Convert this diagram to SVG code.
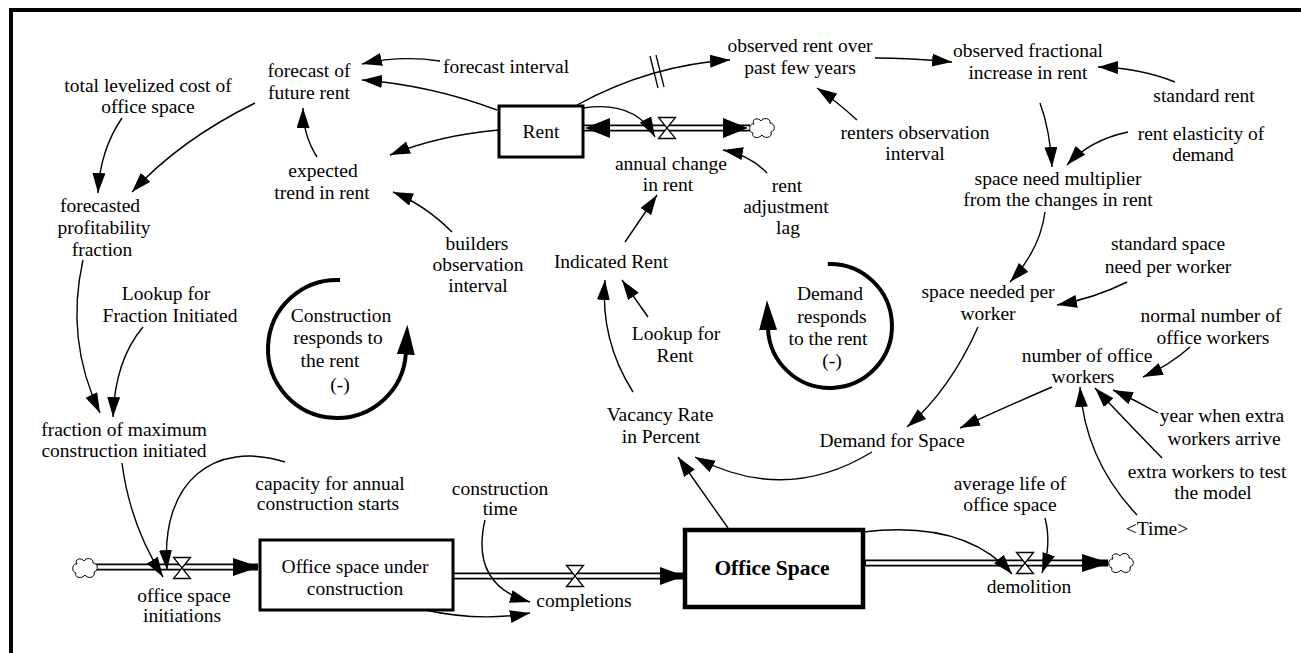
<svg xmlns="http://www.w3.org/2000/svg" width="1301" height="653" viewBox="0 0 1301 653" font-family="'Liberation Serif','Times New Roman',Tinos,'DejaVu Serif',serif">
<style>
text{font-family:"Liberation Serif","Times New Roman",Tinos,"DejaVu Serif",serif;font-size:19.5px;fill:#000;text-anchor:middle}
.b{font-weight:bold;font-size:21.5px}
.c{fill:none;stroke:#000;stroke-width:1.4;marker-end:url(#ah)}
.stock{fill:#fff;stroke:#000;stroke-width:3}
.stock2{fill:#fff;stroke:#000;stroke-width:4.5}
.po{stroke:#000;stroke-width:7;fill:none}
.pi{stroke:#fff;stroke-width:3.6;fill:none}
.valve{fill:#fff;stroke:#000;stroke-width:1.3}
.loop{fill:none;stroke:#000;stroke-width:4;marker-end:url(#lh)}
.cloud{fill:#fff;stroke:#000;stroke-width:1}
.dm{stroke:#000;stroke-width:1.3;fill:none}
</style>
<defs>
<marker id="ah" markerUnits="userSpaceOnUse" markerWidth="22" markerHeight="14" refX="20" refY="6.5" orient="auto"><path d="M0,0 L20,6.5 L0,13 z" fill="#000"/></marker>
<marker id="lh" markerUnits="userSpaceOnUse" markerWidth="32" markerHeight="20" refX="2" refY="9" orient="auto"><path d="M0,0 L30,9 L0,18 z" fill="#000"/></marker>
<path id="cl" d="M-8,-4 C-11,-9 -4,-11 -1,-7 C1,-11 9,-10 8,-5 C13,-5 14,3 9,4 C11,10 2,11 0,7 C-3,11 -11,10 -9,5 C-14,4 -13,-5 -8,-4 Z"/>
</defs>
<rect width="1301" height="653" fill="#fff"/>
<path d="M11,653 L11,10 L1301,10" fill="none" stroke="#000" stroke-width="4"/>

<g id="pipes">
<line class="po" x1="583" y1="128" x2="750" y2="128"/><line class="pi" x1="580" y1="128" x2="752" y2="128"/>
<polygon points="585,128 610,118 610,138"/><polygon points="748,128 723,118 723,138"/>
<line class="po" x1="96" y1="567" x2="258" y2="567"/><line class="pi" x1="94" y1="567" x2="250" y2="567"/>
<polygon points="260,567 233,558 233,576"/>
<line class="po" x1="450" y1="576" x2="683" y2="576"/><line class="pi" x1="450" y1="576" x2="670" y2="576"/>
<polygon points="685,576 660,567 660,585"/>
<line class="po" x1="860" y1="563" x2="1108" y2="563"/><line class="pi" x1="866" y1="563" x2="1100" y2="563"/>
<polygon points="1110,563 1082,554 1082,572"/>
</g>

<g id="n-total"><text x="148" y="92">total levelized cost of</text><text x="148" y="113">office space</text></g>
<g id="n-forecast"><text x="309" y="77">forecast of</text><text x="309" y="99">future rent</text></g>
<g id="n-finterval"><text x="506" y="73">forecast interval</text></g>
<g id="n-rent"><rect class="stock" x="499" y="106" width="84" height="51"/><text x="541" y="138">Rent</text></g>
<g id="n-observed"><text x="800" y="52">observed rent over</text><text x="800" y="74">past few years</text></g>
<g id="n-ofi"><text x="1028" y="57">observed fractional</text><text x="1028" y="79">increase in rent</text></g>
<g id="n-stdrent"><text x="1204" y="102">standard rent</text></g>
<g id="n-renters"><text x="915" y="139">renters observation</text><text x="915" y="160">interval</text></g>
<g id="n-elast"><text x="1201" y="140">rent elasticity of</text><text x="1203" y="161">demand</text></g>
<g id="n-annual"><polygon class="valve" points="658.5,117.5 675.5,117.5 658.5,138.5 675.5,138.5"/><text x="671" y="170">annual change</text><text x="668" y="191">in rent</text></g>
<g id="c-rent"><use href="#cl" class="cloud" x="762" y="128"/></g>
<g id="n-lag"><text x="787" y="192">rent</text><text x="786" y="213">adjustment</text><text x="788" y="234">lag</text></g>
<g id="n-expected"><text x="323" y="177">expected</text><text x="322" y="199">trend in rent</text></g>
<g id="n-builders"><text x="477" y="250">builders</text><text x="478" y="271">observation</text><text x="478" y="292">interval</text></g>
<g id="n-profit"><text x="100" y="212">forecasted</text><text x="104" y="234">profitability</text><text x="102" y="256">fraction</text></g>
<g id="n-snm"><text x="1058" y="185">space need multiplier</text><text x="1058" y="206">from the changes in rent</text></g>
<g id="n-indicated"><text x="611" y="268">Indicated Rent</text></g>
<g id="n-lookrent"><text x="676" y="340">Lookup for</text><text x="675" y="362">Rent</text></g>
<g id="n-lookfrac"><text x="166" y="300">Lookup for</text><text x="170" y="322">Fraction Initiated</text></g>
<g id="loop-construction"><path class="loop" d="M340,280 A69,69 0 1 0 405.9,352.6"/><text x="341" y="322">Construction</text><text x="338" y="344">responds to</text><text x="330" y="367">the rent</text><text x="340" y="391">(-)</text></g>
<g id="loop-demand"><path class="loop" d="M827.8,264 A62,62 0 1 1 768,328.2"/><text x="830" y="300">Demand</text><text x="832" y="323">responds</text><text x="828" y="345">to the rent</text><text x="832" y="367">(-)</text></g>
<g id="n-stdspace"><text x="1168" y="250">standard space</text><text x="1168" y="273">need per worker</text></g>
<g id="n-spw"><text x="988" y="298">space needed per</text><text x="988" y="320">worker</text></g>
<g id="n-normal"><text x="1211" y="322">normal number of</text><text x="1213" y="344">office workers</text></g>
<g id="n-now"><text x="1087" y="362">number of office</text><text x="1083" y="383">workers</text></g>
<g id="n-year"><text x="1222" y="422">year when extra</text><text x="1224" y="445">workers arrive</text></g>
<g id="n-vacancy"><text x="660" y="421">Vacancy Rate</text><text x="661" y="443">in Percent</text></g>
<g id="n-demand"><text x="892" y="447">Demand for Space</text></g>
<g id="n-extra"><text x="1207" y="478">extra workers to test</text><text x="1213" y="499">the model</text></g>
<g id="n-time"><text x="1157" y="535">&lt;Time&gt;</text></g>
<g id="n-fmax"><text x="124" y="436">fraction of maximum</text><text x="124" y="457">construction initiated</text></g>
<g id="n-capacity"><text x="330" y="490">capacity for annual</text><text x="328" y="510">construction starts</text></g>
<g id="n-ctime"><text x="500" y="495">construction</text><text x="500" y="515">time</text></g>
<g id="n-avglife"><text x="1010" y="490">average life of</text><text x="1010" y="511">office space</text></g>
<g id="c-init"><use href="#cl" class="cloud" x="85" y="568"/></g>
<g id="n-initiations"><polygon class="valve" points="173.5,557.5 190.5,557.5 173.5,578.5 190.5,578.5"/><text x="184" y="602">office space</text><text x="182" y="622">initiations</text></g>
<g id="n-osuc"><rect class="stock" x="260" y="540" width="193" height="70"/><text x="355" y="573">Office space under</text><text x="355" y="595">construction</text></g>
<g id="n-completions"><polygon class="valve" points="566.5,565.5 583.5,565.5 566.5,586.5 583.5,586.5"/><text x="584" y="607">completions</text></g>
<g id="n-officespace"><rect class="stock2" x="685" y="530" width="178" height="77"/><text class="b" x="772" y="575">Office Space</text></g>
<g id="n-demolition"><polygon class="valve" points="1016.5,552.5 1033.5,552.5 1016.5,573.5 1033.5,573.5"/><text x="1029" y="593">demolition</text></g>
<g id="c-demol"><use href="#cl" class="cloud" x="1121" y="563"/></g>

<g id="connectors">
<path class="c" d="M122,118 Q100,150 98,193"/>
<path class="c" d="M255,103 Q180,140 132,192"/>
<path class="c" d="M317,157 Q303,135 303,108"/>
<path class="c" d="M440,61 Q400,55 362,64"/>
<path class="c" d="M497,110 Q430,85 362,80"/>
<path class="c" d="M499,130 Q440,135 390,155"/>
<path class="c" d="M452,232 Q425,205 393,192"/>
<path class="c" d="M577,105 Q650,65 730,60"/>
<path class="dm" d="M650,56 L658,88 M656,55 L664,87"/>
<path class="c" d="M875,58 Q910,58 952,62"/>
<path class="c" d="M1175,82 Q1140,68 1098,67"/>
<path class="c" d="M857,120 Q835,100 817,88"/>
<path class="c" d="M583,108 Q635,100 655,137"/>
<path class="c" d="M767,173 Q750,155 723,150"/>
<path class="c" d="M625,242 Q640,220 657,195"/>
<path class="c" d="M648,317 L622,280"/>
<path class="c" d="M633,392 Q600,340 605,280"/>
<path class="c" d="M1040,103 Q1050,130 1052,167"/>
<path class="c" d="M1128,132 Q1090,140 1067,165"/>
<path class="c" d="M1045,212 Q1040,250 1010,282"/>
<path class="c" d="M1127,282 Q1095,298 1057,305"/>
<path class="c" d="M978,327 Q950,390 907,427"/>
<path class="c" d="M1190,347 Q1170,365 1143,377"/>
<path class="c" d="M1052,387 Q1010,405 960,428"/>
<path class="c" d="M1158,413 Q1135,400 1113,390"/>
<path class="c" d="M1162,458 Q1125,420 1095,388"/>
<path class="c" d="M1137,515 Q1085,460 1080,387"/>
<path class="c" d="M872,452 Q785,505 695,457"/>
<path class="c" d="M728,528 L678,457"/>
<path class="c" d="M83,260 Q65,340 100,413"/>
<path class="c" d="M143,327 Q115,360 113,417"/>
<path class="c" d="M122,463 Q130,525 163,577"/>
<path class="c" d="M285,462 C215,440 160,480 167,570"/>
<path class="c" d="M485,520 Q470,585 530,602"/>
<path class="c" d="M425,610 Q480,622 530,613"/>
<path class="c" d="M863,532 Q965,520 1012,574"/>
<path class="c" d="M1045,518 Q1052,545 1042,573"/>
</g>
</svg>
